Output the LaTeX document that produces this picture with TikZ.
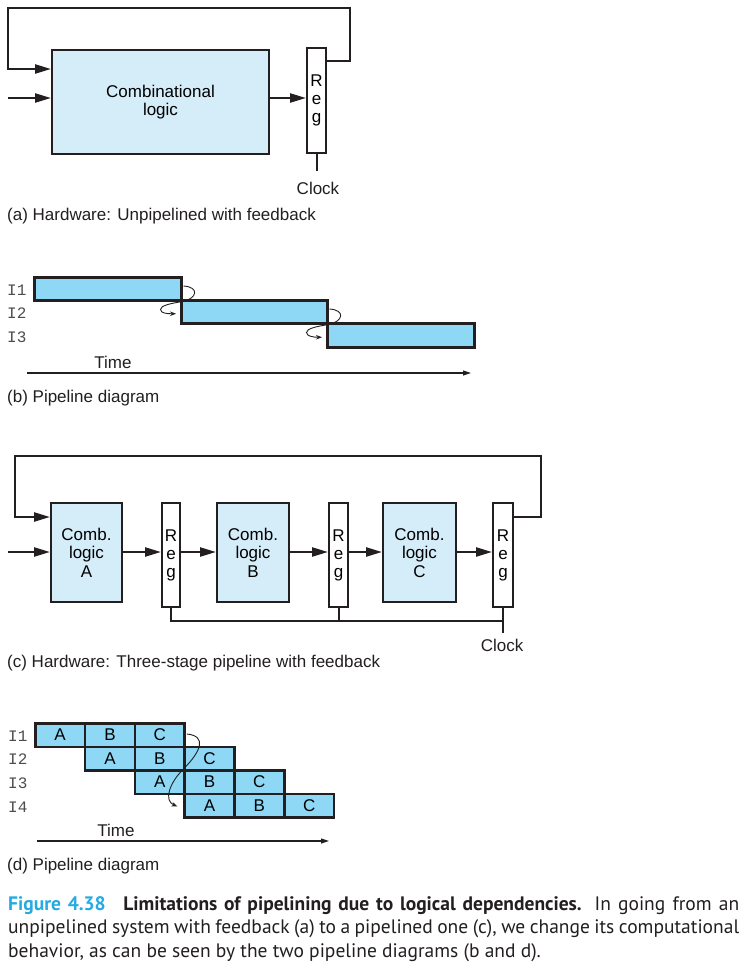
\documentclass[tikz,border=0pt]{standalone}
\usepackage{fontspec}
\setmainfont{Liberation Sans}
\newfontfamily\capfont{PT Sans}
\newfontfamily\monof{Liberation Mono}
\usetikzlibrary{arrows.meta,calc}
\definecolor{combfill}{HTML}{D5ECF9}
\definecolor{barfill}{HTML}{8ED8F5}
\definecolor{figcyan}{HTML}{25AAE1}
\definecolor{ink}{HTML}{231F20}
\tikzset{
  comb/.style={draw=ink, line width=2pt, fill=combfill, align=center, inner sep=0pt},
  regbox/.style={draw=ink, line width=2pt, fill=white, align=center, inner sep=0pt,
    font=\fontsize{17}{18}\selectfont},
  wire/.style={draw=ink, line width=2.3pt},
  arr/.style={-{Triangle[length=16pt,width=9pt]}},
  bar/.style={draw=ink, line width=2.5pt, fill=barfill, inner sep=0pt, anchor=north west},
  cell/.style={bar, minimum width=49.8pt, minimum height=23.5pt},
  curl/.style={draw=ink, line width=0.9pt, -{Stealth[length=6pt,width=4.5pt]}},
  timeax/.style={draw=ink, line width=1.1pt, -{Triangle[length=8pt,width=5pt]}},
  mono/.style={anchor=west, inner sep=0pt, font=\monof\fontsize{16}{17}\selectfont, text=ink!80},
  lbl/.style={inner sep=0pt, text=ink},
  sublbl/.style={anchor=west, inner sep=0pt, text=ink}
}
\begin{document}
\begin{tikzpicture}[x=1pt, y=-1pt, font=\fontsize{17}{18.5}\selectfont]
\useasboundingbox[fill=white] (0,0) rectangle (743,972);

% ---------------- (a) ----------------
\node[comb, minimum width=217pt, minimum height=104pt] (cl) at (160.5,102) {Combinational\\logic};
\node[regbox, minimum width=19pt, minimum height=105pt] (ra) at (316.5,100.5) {R\\e\\g};
\coordinate (fa1) at (350,8);
\coordinate (fa2) at (8,69);
\coordinate (ina) at (8,98);
\coordinate (cka) at (316.5,171);
\draw[wire, arr] ($(ra.north east)+(0,14)$) -| (fa1) -| (fa2) -- (cl.west |- fa2);
\draw[wire, arr] (ina) -- (cl.west |- ina);
\draw[wire, arr] (cl.east |- ina) -- (ra.west |- ina);
\draw[draw=ink, line width=2pt] (ra.south) -- (cka);
\node[lbl] (clka) at (318,188) {Clock};
\node[sublbl] (capa) at (7,216) {(a) Hardware: Unpipelined with feedback};

% ---------------- (b) ----------------
\node[bar, minimum width=147pt, minimum height=23pt] (b1) at (33,276) {};
\node[bar, minimum width=146pt, minimum height=23pt] (b2) at (180,299) {};
\node[bar, minimum width=147pt, minimum height=24pt] (b3) at (326,322) {};
\node[mono] (i1b) at (7,290) {I1};
\node[mono] (i2b) at (7,313) {I2};
\node[mono] (i3b) at (7,337) {I3};
\draw[curl] ($(b1.north east)+(1,10)$) .. controls +(16,1) and +(15,-3) .. (b1.south east)
  .. controls +(-12,2) and +(0,-4) .. ($(b1.south east)+(-22,8)$)
  .. controls +(0,4) and +(-8,0) .. ($(b2.west)+(-4,2)$);
\draw[curl] ($(b2.north east)+(1,10)$) .. controls +(16,1) and +(15,-3) .. (b2.south east)
  .. controls +(-12,2) and +(0,-4) .. ($(b2.south east)+(-22,8)$)
  .. controls +(0,4) and +(-8,0) .. ($(b3.west)+(-4,2)$);
\coordinate (tb0) at (27,373);
\coordinate (tb1) at (471,373);
\draw[timeax] (tb0) -- (tb1);
\node[lbl] (tbl) at (113,362) {Time};
\node[sublbl] (capb) at (7,398) {(b) Pipeline diagram};

% ---------------- (c) ----------------
\node[comb, minimum width=71pt, minimum height=99pt] (ca) at (86.5,552.5) {Comb.\\logic\\A};
\node[regbox, minimum width=18pt, minimum height=104pt] (r1) at (171,555) {R\\e\\g};
\node[comb, minimum width=72pt, minimum height=99pt] (cb) at (253,552.5) {Comb.\\logic\\B};
\node[regbox, minimum width=19pt, minimum height=104pt] (r2) at (338.5,555) {R\\e\\g};
\node[comb, minimum width=73pt, minimum height=99pt] (cc) at (419.5,552.5) {Comb.\\logic\\C};
\node[regbox, minimum width=20pt, minimum height=104pt] (r3) at (503,555) {R\\e\\g};
\coordinate (fc1) at (541,456);
\coordinate (fc2) at (15,517);
\coordinate (fc0) at (541,517);
\coordinate (inc) at (8,552);
\coordinate (bus) at (171,621);
\coordinate (ckc) at (503,633);
\draw[wire, arr] (r3.east |- fc0) -| (fc1) -| (fc2) -- (ca.west |- fc2);
\draw[wire, arr] (inc) -- (ca.west |- inc);
\draw[wire, arr] (ca.east |- inc) -- (r1.west |- inc);
\draw[wire, arr] (r1.east |- inc) -- (cb.west |- inc);
\draw[wire, arr] (cb.east |- inc) -- (r2.west |- inc);
\draw[wire, arr] (r2.east |- inc) -- (cc.west |- inc);
\draw[wire, arr] (cc.east |- inc) -- (r3.west |- inc);
\draw[draw=ink, line width=2pt] (r1.south) -- (bus) -- (r3.south |- bus);
\draw[draw=ink, line width=2pt] (r2.south) -- (r2.south |- bus);
\draw[draw=ink, line width=2pt] (r3.south) -- (ckc);
\node[lbl] (clkc) at (502,645) {Clock};
\node[sublbl] (capc) at (7,663) {(c) Hardware: Three-stage pipeline with feedback};

% ---------------- (d) ----------------
\foreach \r in {0,...,3} {
  \foreach \k/\t in {0/A,1/B,2/C} {
    \node[cell] (d\r\k) at ({34+49.8*(\r+\k)},{722+23.5*\r}) {\t};
  }
}
\node[mono] (i1d) at (8,736) {I1};
\node[mono] (i2d) at (8,759) {I2};
\node[mono] (i3d) at (8,783) {I3};
\node[mono] (i4d) at (8,807) {I4};
\draw[curl] ($(d02.east)+(1,-1)$) .. controls +(20,2) and +(18,-18) .. (d21.north west)
  .. controls +(-14,14) and +(-14,-6) .. ($(d30.west)+(-6,1)$);
\coordinate (td0) at (37,841);
\coordinate (td1) at (329,841);
\draw[timeax] (td0) -- (td1);
\node[lbl] (tdl) at (116,830) {Time};
\node[sublbl] (capd) at (7,866) {(d) Pipeline diagram};

% ---------------- caption ----------------
\node[anchor=north west, text width=731pt, align=justify, inner sep=0pt,
      font=\capfont\fontsize{19.5}{23.5}\selectfont, text=ink] (fig) at (8,896)
 {{\bfseries\color{figcyan}Figure 4.38}\hspace{0.9em}{\bfseries Limitations of pipelining due to logical dependencies.} In going from an\linebreak
 unpipelined system with feedback (a) to a pipelined one (c), we change its computational\linebreak
 behavior, as can be seen by the two pipeline diagrams (b and d).};
\end{tikzpicture}
\end{document}
